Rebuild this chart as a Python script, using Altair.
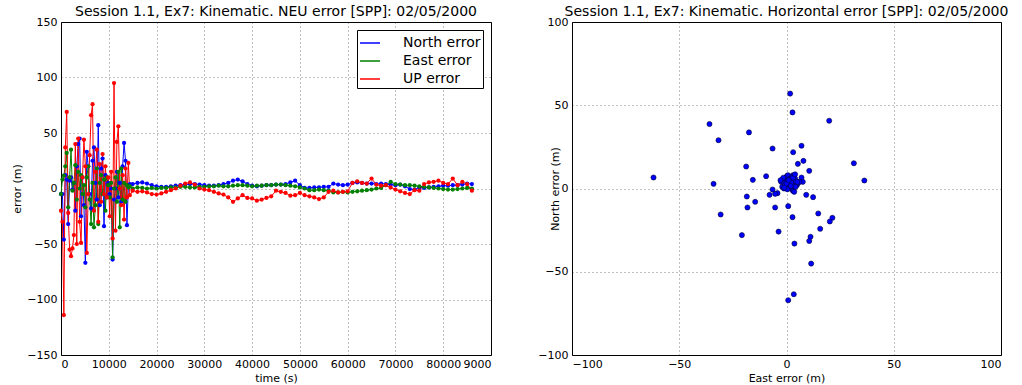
import altair as alt
import pandas as pd

FONT = "DejaVu Sans"

# ---------------- left panel: NEU error time series ----------------
time_s = [
    0, 300, 600, 900, 1200, 1500, 1800, 2100, 2400, 2700,
    3000, 3300, 3600, 3900, 4200, 4500, 4800, 5100, 5400, 5700,
    6000, 6300, 6600, 6900, 7200, 7500, 7800, 8100, 8400, 8700,
    9000, 9300, 9600, 9900, 10200, 10500, 10800, 11100, 11400, 11700,
    12000, 12300, 12600, 12900, 13200, 13500, 13800, 14100, 14400,
    15000, 16000, 17000, 18000, 19000, 20000, 21000, 22000, 23000, 24000,
    25000, 26000, 27000, 28000, 29000, 30000, 31000, 32000, 33000, 34000,
    35000, 36000, 37000, 38000, 39000, 40000, 41000, 42000, 43000, 44000,
    45000, 46000, 47000, 48000, 49000, 50000, 51000, 52000, 53000, 54000,
    55000, 56000, 57000, 58000, 59000, 60000, 61000, 62000, 63000, 64000,
    65000, 66000, 67000, 68000, 69000, 70000, 71000, 72000, 73000, 74000,
    75000, 76000, 77000, 78000, 79000, 80000, 81000, 82000, 83000, 84000,
    85000, 86000,
]

north_err = [
    -5, -5, -46, 12, 8, -32, 7, 10, -1, 5,
    -20, 20, 40, 45, -25, 10, -15, -67, 33, 20,
    -5, -18, 25, 37, 5, -10, 57, -15, 18, 27,
    -34, 12, -8, 5, -5, 0, -64, -10, 0, 15,
    -8, 5, -12, 20, 41, 25, -33, 2, 4,
    4, 5, 5.5, 4.5, 3, 2, 1.5, 1.5, 2, 2.5,
    3, 3.5, 4, 4, 3.5, 3, 2.5, 2.5, 3, 4,
    5, 7, 8, 6.5, 4, 2.5, 2, 2.5, 3, 3,
    3.5, 3.5, 4, 5.5, 7, 3, 0.5, 0.5, 1, 1,
    1.5, 1.5, 4.5, 3.5, 3, 3.5, 5, 5.5, 5, 4.5,
    4.5, 4, 4.5, 4, 3.5, 3, 3.5, 2, -0.5, -1,
    1, 0.5, 1, 1.5, 2, 2.5, 2.5, 3, 3, 3.5,
    4.5, 4,
]

east_err_ts = [
    -5, 8, 11.6, 20, 32, -17, 10, 35, -2, 5,
    21, -10, 15, 0, 12, -5, 3, -17, 10, 20,
    -10, -32, 5, -35, -15, 18, -32, 5, 12, -5,
    8, -20, 10, 3, -8, 5, -62, 0, 10, -12,
    15, -35, 18, -10, 5, -12, 3, 1, 2,
    0, 1, 0.5, 0, 0.5, 0, 0.5, 0.5, 1, 1,
    1.5, 1.5, 1, 1, 1.5, 1.5, 2, 2, 2.5, 2,
    2, 2.5, 3, 3, 2.5, 2, 2.5, 2.5, 3, 3,
    3.5, 3.5, 3, 2.5, 2, 1, 0, -1.5, -1.5, -1,
    -1.5, -2, -3.5, -3.5, -3, -3.5, -3, -2.5, -2, -1.5,
    -1, 0, 0.5, 3, 6, 4, 3.5, 3, 3, 2.5,
    2, 1.5, 1, 0.5, 0, -0.5, -1, -1, -0.5, 0,
    0.5, 0,
]

up_err = [
    -20, -30, -114, 37, 69, -22, -55, -61, -54, -42,
    40, -50, 45, -30, -49, 10, 44, 20, -58, -5,
    30, 66, 76, -20, 15, 35, -30, 22, -12, 31,
    -5, 20, -8, 10, -25, 15, -45, 95, -38, 42,
    56, 0, -15, 12, -28, 18, -8, 23, -6,
    -2, -3, -2.5, -3.5, -5, -5.5, -4.5, -3, -1.5, 0,
    2.5, 4.5, 5.5, 3.5, 0, -1, -1.5, -3, -4.5, -5.5,
    -8, -12, -9, -6, -8.5, -9, -11, -10, -8.5, -7,
    -2, -3, -4, -6.5, -6, -4, -6, -7, -8, -9.5,
    -8, -3, -2, -3.5, -3, -2.5, 5, 6.5, 5, 4.5,
    9, 3.5, 2.5, 3, 1, -1, -2.5, -4, -5, -1.5,
    -2, 4, 5.5, 6, 7, 5, 4, 9, 3, 6,
    4, -2,
]

series_names = ["North error", "East error", "UP error"]
series_colors = ["#0000ff", "#008000", "#ff0000"]

# ---------------- right panel: horizontal scatter ----------------
east_err = [
    1.7, 2.8, 19.9, -35.9, -17.5, -31.7, 7.0, -6.5, 3.1, 7.9,
    5.3, 31.4, -18.8, 10.6, -9.5, -62.0, -15.7, 36.3, -34.0, 7.0,
    7.6, -6.5, -18.5, -7.9, 9.2, 12.4, -4.2, -5.3, -14.6, 0.8,
    -18.2, -5.3, -30.7, 14.8, 2.8, 21.4, 20.2, 15.7, -3.7, -20.8,
    11.2, 10.6, 3.7, 11.5, 3.4, 0.8,
    -2.5, -1.8, -1, -0.5, 0, 0.5, 1, 1.5, 2, 2.5,
    3, 3.5, 4, 4.5, 5, -2, -1.2, 0.2, 0.8, 1.8,
    2.8, 3.8, 4.8, 5.5, -1.5, -0.3, 0.7, 1.3, 2.2, 3.2,
    4.2, -2.8, -0.8, 0.4, 1.6, 2.6, 3.6, 6, -1, 0,
    1, 2, 3, 4, 5,
]
north_err_h = [
    57.0, 45.7, 40.7, 38.7, 33.7, 29.0, 25.7, 24.0, 21.8, 16.6,
    14.8, 15.2, 13.2, 10.6, 7.4, 6.6, 5.2, 4.8, 2.8, 6.6,
    4.0, -0.6, -4.8, -3.8, -3.8, -5.2, -2.8, -3.2, -8.0, -10.6,
    -11.4, -11.4, -15.6, -15.0, -17.2, -17.6, -19.8, -24.2, -25.9, -28.0,
    -29.0, -31.5, -33.1, -45.1, -63.5, -67.1,
    4, 5.5, 3, 6, 2, 5, 1, 4.5, 7, 3,
    8, 2, 6, 4, 3, 1, 0, 7.5, 2.5, 5,
    -1, 4.5, 2, 3.5, 6.5, 1.5, 8, 0.5, 3.5, -1.5,
    1, 5, 2, -0.5, 6, 7, -2, 4, 0.5, 3,
    5, 1.5, 6.5, 8.5, 4,
]

# ---------------- build tables ----------------
ts_df = pd.concat(
    [
        pd.DataFrame({"time": time_s, "error": vals, "series": name})
        for name, vals in zip(series_names, [north_err, east_err_ts, up_err])
    ],
    ignore_index=True,
)
ts_df["order"] = range(len(ts_df))

h_df = pd.DataFrame({"east": east_err, "north": north_err_h})

title_kw = dict(fontSize=14, font=FONT, fontWeight="normal", color="black",
                anchor="middle", offset=1, dy=4)

grid_kw = dict(grid=True, gridColor="#000000", gridOpacity=0.5,
               gridDash=[1, 3], gridWidth=1, ticks=False, domain=False,
               labelFont=FONT, labelFontSize=11, labelColor="black",
               titleFont=FONT, titleFontSize=11, titleFontWeight="normal",
               titleColor="black")

x_time = alt.X("time:Q", title="time (s)",
               scale=alt.Scale(domain=[0, 90000], nice=False, zero=False),
               axis=alt.Axis(values=[0, 10000, 20000, 30000, 40000, 50000,
                                     60000, 70000, 80000, 90000],
                             format="d", labelPadding=3, titlePadding=3,
                             labelExpr="datum.value == 90000 ? '9000' : datum.label",
                             **grid_kw))
y_err = alt.Y("error:Q", title="error (m)",
              scale=alt.Scale(domain=[-150, 150], nice=False),
              axis=alt.Axis(values=[-150, -100, -50, 0, 50, 100, 150],
                            labelPadding=4, titleX=-39, titleY=166.5,
                            **grid_kw))
color_scale = alt.Scale(domain=series_names, range=series_colors)

base = alt.Chart(ts_df)

lines = base.mark_line(strokeWidth=1).encode(
    x=x_time,
    y=y_err,
    stroke=alt.Stroke("series:N", scale=color_scale,
                      legend=alt.Legend(
                          title=None, orient="none", legendX=296, legendY=8,
                          symbolType="stroke", symbolSize=400,
                          symbolStrokeWidth=1.5,
                          labelFont=FONT, labelFontSize=14, labelColor="black",
                          labelOffset=22, padding=2, rowPadding=0,
                          strokeColor="black", fillColor="white",
                          cornerRadius=0)),
    detail="series:N",
    order="order:Q",
)

dots = base.mark_circle(size=18, opacity=1).encode(
    x=x_time,
    y=y_err,
    fill=alt.Fill("series:N", scale=color_scale, legend=None),
    order="order:Q",
)

left = (
    alt.layer(lines, dots, title=alt.TitleParams(
        "Session 1.1, Ex7: Kinematic. NEU error [SPP]: 02/05/2000", **title_kw))
    .properties(width=430, height=333)
)

right = (
    alt.Chart(h_df, title=alt.TitleParams(
        "Session 1.1, Ex7: Kinematic. Horizontal error [SPP]: 02/05/2000", **title_kw))
    .mark_circle(size=26, color="#0000ff", stroke="#000033", strokeWidth=0.6,
                 opacity=1)
    .encode(
        x=alt.X("east:Q", title="East error (m)",
                scale=alt.Scale(domain=[-100, 100], nice=False),
                axis=alt.Axis(values=[-100, -50, 0, 50, 100], labelPadding=3,
                              titlePadding=3, **grid_kw)),
        y=alt.Y("north:Q", title="North error (m)",
                scale=alt.Scale(domain=[-100, 100], nice=False),
                axis=alt.Axis(values=[-100, -50, 0, 50, 100], labelPadding=4,
                              titleX=-12, titleY=166.5, **grid_kw)),
    )
    .properties(width=429, height=333)
)

chart = (
    alt.hconcat(left, right, spacing=81, bounds="flush")
    .properties(
        padding={"left": 10, "top": 4, "right": 5, "bottom": 5},
        background="white",
    )
    .configure_view(stroke="black", strokeWidth=1)
)

chart.save("out.html", embed_options={"renderer": "svg", "actions": False})
